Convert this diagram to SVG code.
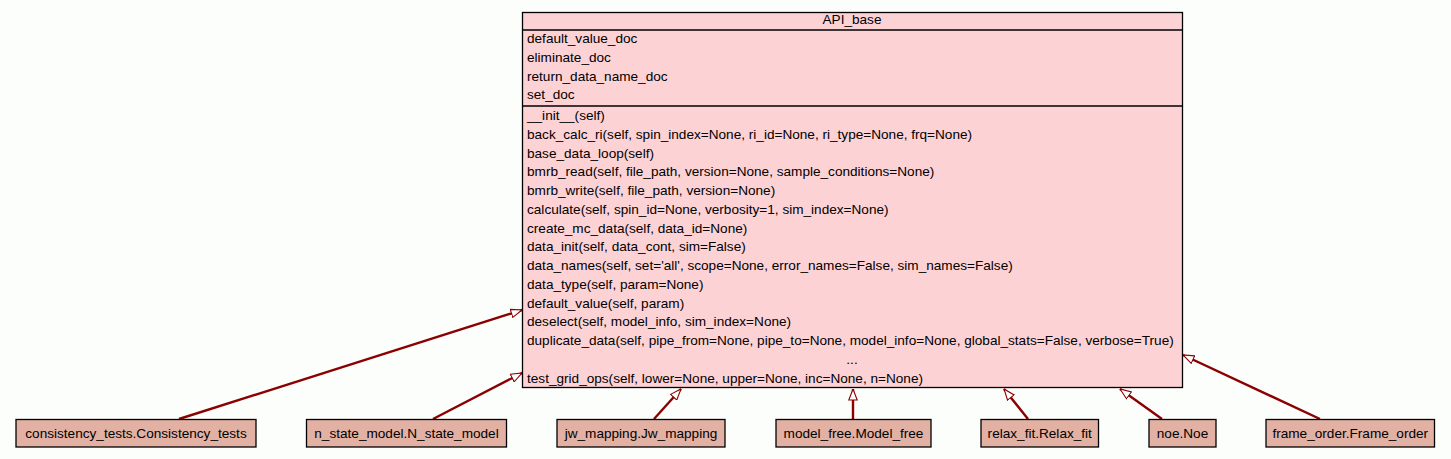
<svg xmlns="http://www.w3.org/2000/svg" width="1451" height="459" viewBox="0 0 1451 459">
<style>
text{font-family:"Liberation Sans",Arial,sans-serif;font-size:13.6px;fill:#000}
.main{fill:#fdd2d5;stroke:#000;stroke-width:1.3}
.sub{fill:#e3b1a4;stroke:#000;stroke-width:1.3}
.sep{stroke:#000;stroke-width:1.3}
.edge{fill:none;stroke:#8b0000;stroke-width:2.4;marker-end:url(#tri)}
.c{text-anchor:middle}
</style>
<defs>
<marker id="tri" viewBox="0 0 12 10" refX="11.5" refY="5" markerWidth="12" markerHeight="10" markerUnits="userSpaceOnUse" orient="auto">
<path d="M0.5,0.8 L11.5,5 L0.5,9.2 Z" fill="#fff" stroke="#8b0000" stroke-width="1.1"/>
</marker>
</defs>
<rect width="1451" height="459" fill="#fcfefc"/>
<g id="connectors">
<path class="edge" d="M179,419 L522,310"/>
<path class="edge" d="M433,419 L522,373"/>
<path class="edge" d="M654,419 L681,389"/>
<path class="edge" d="M853,419 L853,389"/>
<path class="edge" d="M1028,419 L1004,389"/>
<path class="edge" d="M1162,419 L1120,389"/>
<path class="edge" d="M1320,419 L1183,355"/>
</g>
<g id="API_base">
<rect class="main" x="522.5" y="12.5" width="660" height="375"/>
<line class="sep" x1="522.5" y1="30" x2="1182.5" y2="30"/>
<line class="sep" x1="522.5" y1="106" x2="1182.5" y2="106"/>
<text class="c" x="852" y="24">API_base</text>
<text x="527" y="43">default_value_doc</text>
<text x="527" y="61.75">eliminate_doc</text>
<text x="527" y="80.5">return_data_name_doc</text>
<text x="527" y="99.25">set_doc</text>
<text x="527" y="120">__init__(self)</text>
<text x="527" y="138.75">back_calc_ri(self, spin_index=None, ri_id=None, ri_type=None, frq=None)</text>
<text x="527" y="157.5">base_data_loop(self)</text>
<text x="527" y="176.25">bmrb_read(self, file_path, version=None, sample_conditions=None)</text>
<text x="527" y="195">bmrb_write(self, file_path, version=None)</text>
<text x="527" y="213.75">calculate(self, spin_id=None, verbosity=1, sim_index=None)</text>
<text x="527" y="232.5">create_mc_data(self, data_id=None)</text>
<text x="527" y="251.25">data_init(self, data_cont, sim=False)</text>
<text x="527" y="270">data_names(self, set='all', scope=None, error_names=False, sim_names=False)</text>
<text x="527" y="288.75">data_type(self, param=None)</text>
<text x="527" y="307.5">default_value(self, param)</text>
<text x="527" y="326.25">deselect(self, model_info, sim_index=None)</text>
<text x="527" y="345">duplicate_data(self, pipe_from=None, pipe_to=None, model_info=None, global_stats=False, verbose=True)</text>
<text class="c" x="852" y="363.75">...</text>
<text x="527" y="382.5">test_grid_ops(self, lower=None, upper=None, inc=None, n=None)</text>
</g>
<g id="consistency_tests">
<rect class="sub" x="16" y="419.5" width="240" height="27.5"/>
<text class="c" x="136" y="438">consistency_tests.Consistency_tests</text>
</g>
<g id="n_state_model">
<rect class="sub" x="306.5" y="419.5" width="200" height="27.5"/>
<text class="c" x="406.5" y="438">n_state_model.N_state_model</text>
</g>
<g id="jw_mapping">
<rect class="sub" x="557" y="419.5" width="168" height="27.5"/>
<text class="c" x="641" y="438">jw_mapping.Jw_mapping</text>
</g>
<g id="model_free">
<rect class="sub" x="776" y="419.5" width="155" height="27.5"/>
<text class="c" x="853.5" y="438">model_free.Model_free</text>
</g>
<g id="relax_fit">
<rect class="sub" x="981" y="419.5" width="117.5" height="27.5"/>
<text class="c" x="1039.75" y="438">relax_fit.Relax_fit</text>
</g>
<g id="noe">
<rect class="sub" x="1149" y="419.5" width="67" height="27.5"/>
<text class="c" x="1182.5" y="438">noe.Noe</text>
</g>
<g id="frame_order">
<rect class="sub" x="1266" y="419.5" width="168.5" height="27.5"/>
<text class="c" x="1350.25" y="438">frame_order.Frame_order</text>
</g>
</svg>
